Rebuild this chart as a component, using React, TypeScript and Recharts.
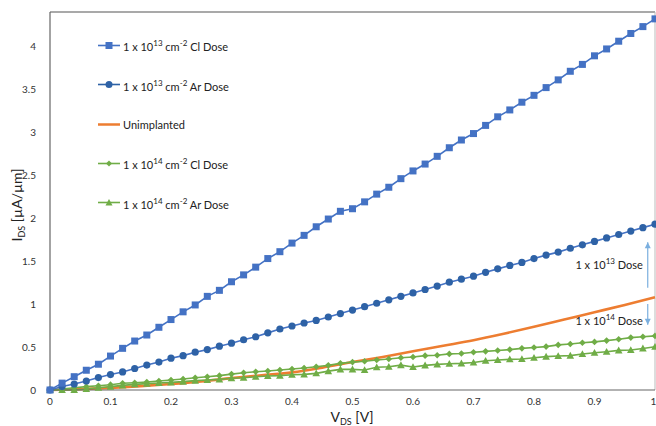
import React from "react";
import { LineChart, Line, XAxis, YAxis, ReferenceLine, ReferenceDot } from "recharts";

// V_DS sweep, 0 .. 1 V in 0.02 V steps
const vds = [
  0, 0.02, 0.04, 0.06, 0.08, 0.1, 0.12, 0.14, 0.16, 0.18, 0.2, 0.22, 0.24, 0.26,
  0.28, 0.3, 0.32, 0.34, 0.36, 0.38, 0.4, 0.42, 0.44, 0.46, 0.48, 0.5, 0.52, 0.54,
  0.56, 0.58, 0.6, 0.62, 0.64, 0.66, 0.68, 0.7, 0.72, 0.74, 0.76, 0.78, 0.8, 0.82,
  0.84, 0.86, 0.88, 0.9, 0.92, 0.94, 0.96, 0.98, 1,
];

const cl13 = [
  0, 0.08, 0.155, 0.23, 0.3, 0.395, 0.485, 0.57, 0.64, 0.73, 0.82, 0.91, 0.99,
  1.09, 1.16, 1.26, 1.34, 1.43, 1.53, 1.61, 1.71, 1.8, 1.9, 1.99, 2.08, 2.11,
  2.19, 2.28, 2.36, 2.46, 2.55, 2.63, 2.72, 2.82, 2.91, 2.985, 3.08, 3.18, 3.26,
  3.35, 3.43, 3.52, 3.61, 3.71, 3.79, 3.89, 3.97, 4.06, 4.15, 4.23, 4.32,
];

const ar13 = [
  0, 0.04, 0.07, 0.105, 0.145, 0.18, 0.21, 0.25, 0.29, 0.325, 0.37, 0.4, 0.44,
  0.47, 0.51, 0.545, 0.585, 0.62, 0.665, 0.71, 0.745, 0.78, 0.81, 0.85, 0.89,
  0.93, 0.97, 1.01, 1.05, 1.09, 1.13, 1.17, 1.21, 1.255, 1.29, 1.325, 1.37, 1.41,
  1.45, 1.485, 1.53, 1.57, 1.605, 1.65, 1.69, 1.73, 1.77, 1.81, 1.85, 1.89, 1.93,
];

const cl14 = [
  0, 0.012, 0.027, 0.039, 0.05, 0.062, 0.078, 0.085, 0.093, 0.105, 0.116, 0.128,
  0.143, 0.155, 0.167, 0.185, 0.2, 0.212, 0.222, 0.233, 0.244, 0.256, 0.271,
  0.287, 0.31, 0.325, 0.335, 0.35, 0.36, 0.375, 0.385, 0.4, 0.405, 0.42, 0.425,
  0.44, 0.45, 0.46, 0.47, 0.485, 0.495, 0.505, 0.525, 0.535, 0.55, 0.56, 0.575,
  0.59, 0.61, 0.62, 0.63,
];

const ar14 = [
  0, 0, 0, 0.012, 0.027, 0.039, 0.054, 0.066, 0.074, 0.081, 0.089, 0.097, 0.109,
  0.116, 0.124, 0.136, 0.143, 0.155, 0.163, 0.167, 0.178, 0.182, 0.194, 0.22,
  0.24, 0.24, 0.233, 0.264, 0.271, 0.29, 0.267, 0.287, 0.298, 0.306, 0.31, 0.32,
  0.341, 0.349, 0.357, 0.36, 0.376, 0.388, 0.395, 0.4, 0.419, 0.434, 0.446,
  0.461, 0.465, 0.484, 0.504,
];

// unimplanted curve (no markers)
const vdsUnimp = [
  0, 0.05, 0.1, 0.15, 0.2, 0.25, 0.3, 0.35, 0.4, 0.45, 0.5, 0.55, 0.6, 0.65, 0.7,
  0.75, 0.8, 0.85, 0.9, 0.95, 1,
];
const unimp = [
  0, 0.01, 0.025, 0.045, 0.07, 0.1, 0.138, 0.172, 0.205, 0.26, 0.325, 0.385,
  0.45, 0.515, 0.58, 0.655, 0.735, 0.82, 0.905, 0.99, 1.08,
];

const xTicks = [0, 0.1, 0.2, 0.3, 0.4, 0.5, 0.6, 0.7, 0.8, 0.9, 1];
const yTicks = [0, 0.5, 1, 1.5, 2, 2.5, 3, 3.5, 4];

const data = vds.map((v, i) => ({
  v,
  cl13: cl13[i],
  ar13: ar13[i],
  cl14: cl14[i],
  ar14: ar14[i],
}));
const unimpData = vdsUnimp.map((v, i) => ({ v, unimp: unimp[i] }));

const C_CL13 = "#4472C4";
const C_AR13 = "#2E62A6";
const C_UNIMP = "#ED7D31";
const C_GREEN = "#70AD47";
const C_ARROW = "#7BAFDF";
const FONT = "Lato, 'Open Sans', sans-serif";

const Square = (p: any) => {
  if (p.cx == null || p.cy == null) return <g key={p.key} />;
  return <rect key={p.key} x={p.cx - 3.5} y={p.cy - 3.5} width={7} height={7} fill={C_CL13} />;
};
const Circle = (p: any) => {
  if (p.cx == null || p.cy == null) return <g key={p.key} />;
  return <circle key={p.key} cx={p.cx} cy={p.cy} r={3.6} fill={C_AR13} />;
};
const Diamond = (p: any) => {
  if (p.cx == null || p.cy == null) return <g key={p.key} />;
  const s = 3.3;
  return (
    <polygon
      key={p.key}
      points={`${p.cx},${p.cy - s} ${p.cx + s},${p.cy} ${p.cx},${p.cy + s} ${p.cx - s},${p.cy}`}
      fill={C_GREEN}
    />
  );
};
const Triangle = (p: any) => {
  if (p.cx == null || p.cy == null) return <g key={p.key} />;
  const s = 3.8;
  return (
    <polygon
      key={p.key}
      points={`${p.cx},${p.cy - s} ${p.cx + s},${p.cy + s * 0.8} ${p.cx - s},${p.cy + s * 0.8}`}
      fill={C_GREEN}
    />
  );
};

const legendItems = [
  { color: C_CL13, marker: "square", exp: "13", gas: "Cl" },
  { color: C_AR13, marker: "circle", exp: "13", gas: "Ar" },
  { color: C_UNIMP, marker: "none", exp: "", gas: "" },
  { color: C_GREEN, marker: "diamond", exp: "14", gas: "Cl" },
  { color: C_GREEN, marker: "triangle", exp: "14", gas: "Ar" },
];

const LegendMarker = ({ marker, color }: { marker: string; color: string }) => {
  if (marker === "square") return <rect x={7.5} y={2} width={7} height={7} fill={color} />;
  if (marker === "circle") return <circle cx={11} cy={5.5} r={3.5} fill={color} />;
  if (marker === "diamond")
    return <polygon points="11,2.5 14,5.5 11,8.5 8,5.5" fill={color} />;
  if (marker === "triangle") return <polygon points="11,2 14.5,8.5 7.5,8.5" fill={color} />;
  return null;
};

const LegendBox = () => (
  <div
    style={{
      position: "absolute",
      left: 98,
      top: 26,
      fontFamily: FONT,
      fontSize: 11,
      color: "#222",
    }}
  >
    {legendItems.map((it, i) => (
      <div
        key={i}
        style={{ display: "flex", alignItems: "center", height: 39.3, whiteSpace: "nowrap" }}
      >
        <svg width={22} height={11} style={{ marginRight: 3 }}>
          <line
            x1={0}
            x2={22}
            y1={5.5}
            y2={5.5}
            stroke={it.color}
            strokeWidth={it.marker === "none" ? 2.5 : 1.6}
          />
          <LegendMarker marker={it.marker} color={it.color} />
        </svg>
        {it.exp ? (
          <span>
            1 x 10<sup style={{ fontSize: 8 }}>{it.exp}</sup> cm
            <sup style={{ fontSize: 8 }}>-2</sup> {it.gas} Dose
          </span>
        ) : (
          <span>Unimplanted</span>
        )}
      </div>
    ))}
  </div>
);

const arrowHead = (dir: "up" | "down") => (p: any) => {
  const { cx, cy } = p;
  const pts =
    dir === "up"
      ? `${cx - 3},${cy + 6} ${cx + 3},${cy + 6} ${cx},${cy}`
      : `${cx - 3},${cy - 6} ${cx + 3},${cy - 6} ${cx},${cy}`;
  return <polygon points={pts} fill={C_ARROW} />;
};

const doseText = (exp: string) => (p: any) => {
  const { cx, cy } = p;
  return (
    <text x={cx} y={cy + 4} textAnchor="end" fontSize={11} fontFamily={FONT} fill="#222">
      1 x 10
      <tspan dy={-5} fontSize={8}>
        {exp}
      </tspan>
      <tspan dy={5}> Dose</tspan>
    </text>
  );
};

const YLabel = () => (
  <text
    transform="translate(22,205) rotate(-90)"
    textAnchor="middle"
    fontSize={14}
    fontFamily={FONT}
    fill="#222"
  >
    I<tspan fontSize={9} dy={3}>DS</tspan>
    <tspan dy={-3}>{"  [\u00b5A/\u00b5m]"}</tspan>
  </text>
);

const XLabel = () => (
  <text x={352} y={422} textAnchor="middle" fontSize={14} fontFamily={FONT} fill="#222">
    V<tspan fontSize={9} dy={3}>DS</tspan>
    <tspan dy={-3}>{"  [V]"}</tspan>
  </text>
);

export default function App() {
  return (
    <div style={{ position: "absolute", left: 0, top: 0, width: 656, height: 426, background: "#fff" }}>
      <LineChart
        width={656}
        height={426}
        data={data}
        margin={{ top: 12, right: 1, bottom: 6, left: 0 }}
      >
        <XAxis
          type="number"
          dataKey="v"
          domain={[0, 1]}
          ticks={xTicks}
          height={30}
          tickLine={false}
          axisLine={{ stroke: "#666", strokeWidth: 1.2 }}
          tick={{ fontSize: 10, fill: "#333", fontFamily: FONT }}
          tickMargin={2}
          allowDuplicatedCategory={false}
        />
        <YAxis
          type="number"
          domain={[0, 4.4]}
          ticks={yTicks}
          width={50}
          tickLine={false}
          axisLine={{ stroke: "#666", strokeWidth: 1.2 }}
          tick={{ fontSize: 10, fill: "#333", fontFamily: FONT }}
          tickMargin={8}
        />
        <ReferenceLine y={4.4} stroke="#555" strokeWidth={1.2} />
        <ReferenceLine x={1} stroke="#bbb" strokeWidth={1} />
        <Line
          data={unimpData}
          dataKey="unimp"
          type="monotone"
          stroke={C_UNIMP}
          strokeWidth={2.6}
          dot={false}
          isAnimationActive={false}
        />
        <Line
          dataKey="ar14"
          type="linear"
          stroke={C_GREEN}
          strokeWidth={1.6}
          dot={Triangle}
          isAnimationActive={false}
        />
        <Line
          dataKey="cl14"
          type="linear"
          stroke={C_GREEN}
          strokeWidth={1.6}
          dot={Diamond}
          isAnimationActive={false}
        />
        <Line
          dataKey="ar13"
          type="linear"
          stroke={C_CL13}
          strokeWidth={1.6}
          dot={Circle}
          isAnimationActive={false}
        />
        <Line
          dataKey="cl13"
          type="linear"
          stroke={C_CL13}
          strokeWidth={1.6}
          dot={Square}
          isAnimationActive={false}
        />
        {/* dose-gap arrows */}
        <ReferenceLine
          segment={[
            { x: 0.988, y: 1.19 },
            { x: 0.988, y: 1.72 },
          ]}
          stroke={C_ARROW}
          strokeWidth={1.2}
        />
        <ReferenceDot x={0.988} y={1.72} shape={arrowHead("up")} />
        <ReferenceLine
          segment={[
            { x: 0.988, y: 0.76 },
            { x: 0.988, y: 1.0 },
          ]}
          stroke={C_ARROW}
          strokeWidth={1.2}
        />
        <ReferenceDot x={0.988} y={0.76} shape={arrowHead("down")} />
        <ReferenceDot x={0.98} y={1.45} shape={doseText("13")} />
        <ReferenceDot x={0.98} y={0.8} shape={doseText("14")} />
        <YLabel />
        <XLabel />
      </LineChart>
      <LegendBox />
    </div>
  );
}
